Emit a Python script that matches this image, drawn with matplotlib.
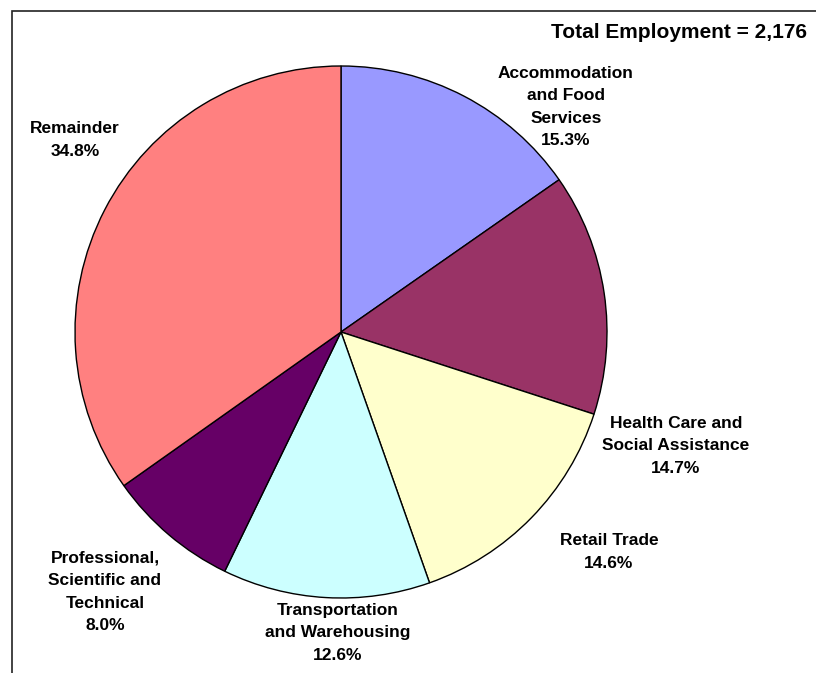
import matplotlib.pyplot as plt
from matplotlib.patches import Rectangle

plt.rcParams["font.family"] = ["Liberation Sans", "DejaVu Sans"]

W, H, DPI = 816, 673, 100

categories = [
    "Accommodation\nand Food\nServices",
    "Health Care and\nSocial Assistance",
    "Retail Trade",
    "Transportation\nand Warehousing",
    "Professional,\nScientific and\nTechnical",
    "Remainder",
]
shares = [15.3, 14.7, 14.6, 12.6, 8.0, 34.8]
colors = ["#9999FF", "#993366", "#FFFFCC", "#CCFFFF", "#660066", "#FF8080"]
total_employment = "2,176"

# label centres in pixels (from top-left), Excel "best fit" placement
label_px = [(566, 107), (676, 446), (609, 552), (338, 633), (105, 592), (75, 140)]

# pie centre / radius in pixels
cx, cy, R = 341, 332, 266

fig = plt.figure(figsize=(W / DPI, H / DPI), dpi=DPI)
ax = fig.add_axes([0, 0, 1, 1])

ax.pie(shares, colors=colors, startangle=90, counterclock=False,
       wedgeprops=dict(edgecolor="black", linewidth=1.0))

ax.set_xlim(-cx / R, (W - cx) / R)
ax.set_ylim(-(H - cy) / R, cy / R)
ax.set_aspect("auto")
ax.axis("off")


def to_data(px, py):
    return (px - cx) / R, (cy - py) / R


for name, val, (px, py) in zip(categories, shares, label_px):
    x, y = to_data(px, py)
    ax.text(x, y, f"{name}\n{val:.1f}%", ha="center", va="center",
            fontsize=12.5, fontweight="bold", linespacing=1.62)

fig.text(807 / W, 1 - 37.5 / H, f"Total Employment = {total_employment}",
         ha="right", va="baseline", fontsize=15, fontweight="bold")

# chart border (right and bottom edges fall outside the image)
fig.patches.append(Rectangle((11.5 / W, -0.1), 1.2, 1 - 11 / H + 0.1,
                             transform=fig.transFigure, fill=False,
                             edgecolor="#222222", linewidth=1.2))

fig.savefig("out.png", dpi=DPI)
plt.close(fig)
